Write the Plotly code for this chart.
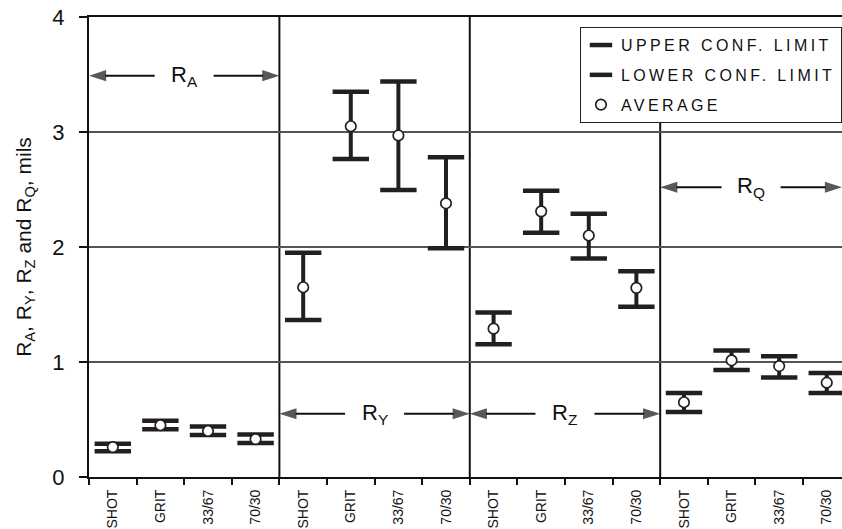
import plotly.graph_objects as go

# Surface roughness parameters and blast media
groups = ["A", "Y", "Z", "Q"]
media = ["SHOT", "GRIT", "33/67", "70/30"]

# Averages and 95% confidence limits (mils), one list per parameter
ra_avg = [0.26, 0.45, 0.40, 0.33]
ra_upper = [0.29, 0.49, 0.44, 0.37]
ra_lower = [0.225, 0.415, 0.365, 0.295]

ry_avg = [1.65, 3.05, 2.97, 2.38]
ry_upper = [1.95, 3.35, 3.44, 2.78]
ry_lower = [1.365, 2.765, 2.495, 1.99]

rz_avg = [1.29, 2.31, 2.10, 1.645]
rz_upper = [1.43, 2.49, 2.29, 1.79]
rz_lower = [1.155, 2.125, 1.90, 1.48]

rq_avg = [0.65, 1.015, 0.965, 0.82]
rq_upper = [0.73, 1.10, 1.05, 0.905]
rq_lower = [0.565, 0.93, 0.865, 0.73]

y_ticks = [0, 1, 2, 3, 4]

avg = ra_avg + ry_avg + rz_avg + rq_avg
upper = ra_upper + ry_upper + rz_upper + rq_upper
lower = ra_lower + ry_lower + rz_lower + rq_lower
labels = media * len(groups)

n = len(labels)
centers = [i + 0.5 for i in range(n)]
boundaries = list(range(n + 1))
per_group = len(media)

INK = "#231f20"
FONT = "Liberation Sans, Arial, sans-serif"
X_MAX = 15.82          # visible part of the category axis
LEGEND_FLOOR = 3.08    # separator under the legend stops here

fig = go.Figure()

# vertical stems of the confidence intervals
stem_x, stem_y = [], []
for c, lo, hi in zip(centers, lower, upper):
    stem_x += [c, c, None]
    stem_y += [lo, hi, None]
fig.add_trace(go.Scatter(x=stem_x, y=stem_y, mode="lines",
                         line=dict(color=INK, width=4),
                         showlegend=False, hoverinfo="skip"))

fig.add_trace(go.Scatter(x=centers, y=upper, mode="markers",
                         name="UPPER CONF. LIMIT", legendgroup="u",
                         marker=dict(symbol="line-ew", size=26,
                                     line=dict(color=INK, width=4.5))))
fig.add_trace(go.Scatter(x=centers, y=lower, mode="markers",
                         name="LOWER CONF. LIMIT", legendgroup="l",
                         marker=dict(symbol="line-ew", size=26,
                                     line=dict(color=INK, width=4.5))))
fig.add_trace(go.Scatter(x=centers, y=avg, mode="markers",
                         name="AVERAGE", legendgroup="a",
                         marker=dict(symbol="circle", size=10.5, color="white",
                                     line=dict(color=INK, width=1.7))))

# double-headed span arrows marking each parameter group
arrow_levels = [3.49, 0.55, 0.55, 2.52]
gap = 0.62
arr_x, arr_y, arr_sym, arr_size = [], [], [], []
label_annotations = []
for g, name in enumerate(groups):
    x0 = g * per_group
    x1 = min((g + 1) * per_group, X_MAX)
    mid = (x0 + x1) / 2
    lvl = arrow_levels[g]
    for tail, tip in ((mid - gap, x0), (mid + gap, x1)):
        arr_x += [tail, tip, None]
        arr_y += [lvl, lvl, None]
        arr_sym += ["circle", "arrow", "circle"]
        arr_size += [0, 18, 0]
    label_annotations.append(dict(x=mid, y=lvl, xref="x", yref="y",
                                  text=f"R<sub>{name}</sub>", showarrow=False,
                                  font=dict(family=FONT, size=22, color="#111")))
fig.add_trace(go.Scatter(x=arr_x, y=arr_y, mode="lines+markers",
                         line=dict(color="#111", width=2),
                         marker=dict(symbol=arr_sym, size=arr_size,
                                     color="#111", angleref="previous",
                                     line=dict(width=0)),
                         showlegend=False, hoverinfo="skip"))

# separators between the parameter groups
shapes = []
for g in range(1, len(groups)):
    xb = g * per_group
    top = 4 if g < len(groups) - 1 else LEGEND_FLOOR
    shapes.append(dict(type="line", xref="x", yref="y", x0=xb, x1=xb,
                       y0=0, y1=top, line=dict(color="#111", width=2),
                       layer="below"))

fig.update_layout(
    width=842, height=529,
    margin=dict(l=89, r=0, t=17, b=52),
    paper_bgcolor="white", plot_bgcolor="white",
    font=dict(family=FONT, color="#111"),
    shapes=shapes, annotations=label_annotations,
    showlegend=True,
    legend=dict(x=0.652, y=0.978, xanchor="left", yanchor="top",
                bgcolor="white", bordercolor="#222", borderwidth=1,
                font=dict(family=FONT, size=16, color="#111"),
                tracegroupgap=6, itemwidth=30),
    xaxis=dict(range=[0, X_MAX], tickmode="array", tickvals=centers,
               ticktext=labels, tickangle=-90, ticks="",
               tickfont=dict(family=FONT, size=14, color="#111"),
               ticklabelstandoff=5, automargin=False,
               showgrid=False, zeroline=False,
               showline=True, linecolor="#111", linewidth=2, mirror=True,
               minor=dict(tickvals=boundaries, ticks="outside", ticklen=6,
                          tickwidth=1.5, tickcolor="#111", showgrid=False)),
    yaxis=dict(range=[0, 4], tickvals=y_ticks, ticks="outside", ticklen=8,
               tickwidth=1.5, tickcolor="#111",
               tickfont=dict(family=FONT, size=22, color="#111"),
               ticklabelstandoff=10, automargin=False,
               showgrid=True, gridcolor="#555", gridwidth=1.5,
               zeroline=False, showline=True, linecolor="#111", linewidth=2,
               title=dict(text="R<sub>A</sub>, R<sub>Y</sub>, R<sub>Z</sub> and R<sub>Q</sub>, mils",
                          font=dict(family=FONT, size=21, color="#111"),
                          standoff=15)),
)

# widen the legend lettering, then redraw so the legend box is re-measured
spacing_js = (
    "var st=document.createElement('style');"
    "st.textContent='.legendtext{letter-spacing:3.4px}';"
    "document.head.appendChild(st);"
    "Plotly.relayout(document.getElementById('{plot_id}'),{'legend.font.size':16.01});"
)

fig.write_html("out.html", post_script=spacing_js)
